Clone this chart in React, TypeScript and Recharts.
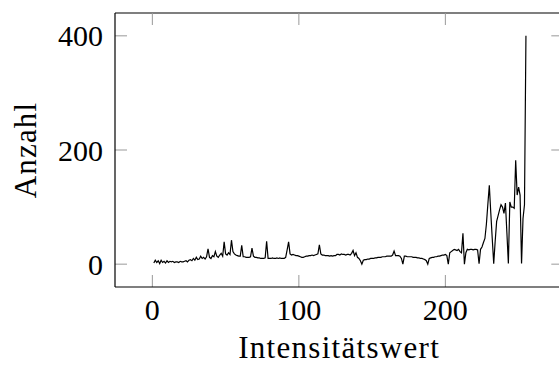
import React from 'react'
import { LineChart, Line, XAxis, YAxis, ReferenceLine } from 'recharts'

// Histogram of intensity values (x = 1..255)
const counts = [
  2, 7, 3, 6, 1, 7, 3, 5, 2, 6, 3, 5,
  4, 5, 3, 4, 4, 3, 5, 4, 4, 5, 6, 4, 7,
  8, 6, 10, 7, 12, 8, 9, 14, 10, 12, 9, 13,
  27, 12, 10, 15, 13, 22, 14, 12, 16, 19, 14,
  39, 18, 16, 20, 17, 42, 22, 18, 16, 15, 14, 14,
  33, 13, 13, 12, 12, 12, 13, 28, 14, 12,
  12, 11, 11, 10, 10, 10, 11, 40, 10, 10,
  10, 11, 10, 10, 11, 10, 11, 10, 10, 10,
  12, 25, 39, 18, 16, 17, 16, 15, 15, 14,
  13, 12, 12, 13, 14, 14, 15, 15, 16, 15,
  16, 17, 18, 34, 18, 16, 16, 15, 15, 15,
  14, 15, 14, 15, 15, 17, 17, 16, 18, 17,
  17, 16, 17, 17, 16, 19, 24, 15, 20, 12,
  10, 6, 0, 7, 8, 8, 9, 9, 10, 10,
  10, 11, 11, 12, 12, 12, 13, 13, 13, 14,
  14, 14, 14, 16, 23, 15, 15, 15, 14, 10,
  0, 14, 14, 13, 13, 13, 13, 12, 12, 12,
  11, 11, 10, 10, 9, 8, 6, 0, 10, 11,
  12, 12, 13, 13, 14, 14, 15, 16, 16, 17,
  15, 0, 20, 22, 24, 26, 25, 24, 26, 22,
  20, 54, 0, 20, 26, 25, 26, 26, 25, 26,
  26, 25, 1, 26, 30, 38, 45, 70, 105, 138,
  90, 45, 1, 40, 75, 85, 95, 104, 100, 89,
  107, 55, 1, 109, 100, 100, 98, 182, 121, 135,
  121, 1, 80, 104, 400
]
const firstIntensity = 1

const xTicks = [0, 100, 200]
const yTicks = [0, 200, 400]
const xDomain = [-25.5, 280.5]
const yDomain = [-40, 440]

const font = '"Liberation Serif", "Times New Roman", serif'
const tickLen = 12 // px, drawn inside the frame
const plotW = 448.3
const plotH = 274

export default function App() {
  const data = counts.map((c, i) => ({ x: firstIntensity + i, y: c }))

  const xUnit = (tickLen / plotW) * (xDomain[1] - xDomain[0])
  const yUnit = (tickLen / plotH) * (yDomain[1] - yDomain[0])

  return (
    <div style={{ position: 'absolute', left: 0, top: 0, width: 559, height: 365, overflow: 'hidden', background: '#fff' }}>
      <LineChart
        width={570}
        height={365}
        data={data}
        margin={{ top: 13, right: 570 - 115 - plotW, bottom: 0, left: 0 }}
      >
        <XAxis
          type="number"
          dataKey="x"
          domain={xDomain}
          ticks={xTicks}
          allowDataOverflow
          interval={0}
          tickLine={false}
          tickSize={0}
          tickMargin={12}
          height={78}
          axisLine={{ stroke: '#000', strokeWidth: 1.2 }}
          tick={{ fill: '#000', fontSize: 30, fontFamily: font }}
          label={{
            value: 'Intensitätswert',
            position: 'insideBottom',
            offset: 7,
            style: { fill: '#000', fontSize: 31, fontFamily: font, letterSpacing: 1.3 }
          }}
        />
        <YAxis
          type="number"
          dataKey="y"
          domain={yDomain}
          ticks={yTicks}
          allowDataOverflow
          interval={0}
          tickLine={false}
          tickSize={0}
          tickMargin={12}
          width={115}
          axisLine={{ stroke: '#000', strokeWidth: 1.2 }}
          tick={{ fill: '#000', fontSize: 30, fontFamily: font }}
          label={{
            value: 'Anzahl',
            angle: -90,
            position: 'insideLeft',
            offset: 25,
            style: { fill: '#000', fontSize: 31, fontFamily: font, textAnchor: 'middle', letterSpacing: 1.2 }
          }}
        />

        {/* top frame line */}
        <ReferenceLine y={yDomain[1]} stroke="#000" strokeWidth={1.2} />

        {/* inward tick marks, bottom and top */}
        {xTicks.map(t => (
          <ReferenceLine key={`xb-${t}`} segment={[{ x: t, y: yDomain[0] }, { x: t, y: yDomain[0] + yUnit }]} stroke="#999" />
        ))}
        {xTicks.map(t => (
          <ReferenceLine key={`xt-${t}`} segment={[{ x: t, y: yDomain[1] }, { x: t, y: yDomain[1] - yUnit }]} stroke="#999" />
        ))}
        {/* inward tick marks, left and right */}
        {yTicks.map(t => (
          <ReferenceLine key={`yl-${t}`} segment={[{ x: xDomain[0], y: t }, { x: xDomain[0] + xUnit, y: t }]} stroke="#999" />
        ))}
        {yTicks.map(t => (
          <ReferenceLine key={`yr-${t}`} segment={[{ x: xDomain[1], y: t }, { x: xDomain[1] - xUnit, y: t }]} stroke="#999" />
        ))}

        <Line
          type="linear"
          dataKey="y"
          stroke="#000"
          strokeWidth={1.2}
          dot={false}
          isAnimationActive={false}
        />
      </LineChart>
    </div>
  )
}
